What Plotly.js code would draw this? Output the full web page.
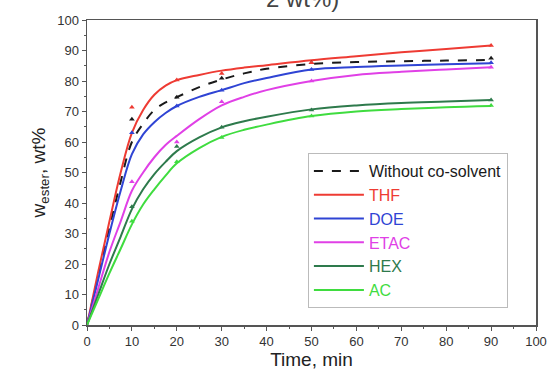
<!DOCTYPE html>
<html><head><meta charset="utf-8">
<script src="https://cdn.plot.ly/plotly-3.0.1.min.js"></script>
<style>html,body{margin:0;padding:0;background:#fff}#c{width:557px;height:380px}</style>
</head><body><div id="c"></div>
<script>
// fitted curves
const tFit = [0, 2.5, 5, 7.5, 10, 12.5, 15, 17.5, 20, 25, 30, 35, 40, 50, 60, 70, 80, 90];
const fitWithout = [0, 16, 32, 47, 60, 66, 70.5, 73, 74.7, 78, 80.5, 82.5, 84, 85.6, 86.2, 86.5, 86.7, 86.9];
const fitTHF     = [0, 17.5, 34, 50, 63, 70.5, 75.5, 78.5, 80.3, 82, 83.4, 84.4, 85.2, 86.8, 88.1, 89.4, 90.5, 91.6];
const fitDOE     = [0, 15, 30, 44, 56, 62.5, 66.5, 69.5, 71.8, 74.8, 77, 79.3, 81, 83.8, 84.6, 85.1, 85.5, 85.8];
const fitETAC    = [0, 12, 24, 34, 44, 50, 55, 59, 62, 67.5, 72, 74.8, 77, 80, 82, 83, 83.8, 84.5];
const fitHEX     = [0, 10, 20, 29, 38, 44.5, 49.5, 53.5, 57, 61.5, 64.8, 66.8, 68.3, 70.7, 72, 72.8, 73.3, 73.8];
const fitAC      = [0, 8.5, 17, 25, 33, 39.5, 44.5, 49, 53, 58, 61.7, 64, 65.7, 68.5, 70, 70.8, 71.4, 71.8];
// experimental points
const tExp = [10, 20, 30, 50, 90];
const expWithout = [67.5, 74.7, 80.9, 86, 87.5];
const expTHF     = [71.4, 80.3, 82.5, 86, 91.6];
const expDOE     = [63, 71.8, 77, 83.8, 86];
const expETAC    = [47, 60, 73.2, 80, 84.5];
const expHEX     = [38.8, 58.5, 64.8, 70.5, 73.8];
const expAC      = [34, 53.5, 61.5, 68.5, 72];

const names = ['Without co-solvent','THF','DOE','ETAC','HEX','AC'];
const colors = ['#1a1a1a','#ee3b33','#2f44d4','#e040e6','#2e7a4c','#3fdc3f'];
const fits = [fitWithout, fitTHF, fitDOE, fitETAC, fitHEX, fitAC];
const exps = [expWithout, expTHF, expDOE, expETAC, expHEX, expAC];

const traces = [];
for (let i = 0; i < names.length; i++) {
  traces.push({
    x: tFit, y: fits[i], mode: 'lines', type: 'scatter',
    name: '<span style="color:' + colors[i] + '">' + names[i] + '</span>',
    line: {color: colors[i], width: 2, shape: 'spline', smoothing: 1, dash: i === 0 ? 'dash' : 'solid'},
    hoverinfo: 'skip'
  });
}
for (let i = 0; i < names.length; i++) {
  traces.push({
    x: tExp, y: exps[i], mode: 'markers', type: 'scatter', showlegend: false,
    marker: {color: colors[i], size: 5, symbol: 'triangle-up'}
  });
}

const layout = {
  width: 557, height: 380,
  margin: {l: 87, r: 21, t: 20, b: 55},
  paper_bgcolor: '#fff', plot_bgcolor: '#fff',
  font: {family: 'Liberation Sans, Arial, sans-serif', color: '#222'},
  showlegend: true,
  legend: {x: 0.492, y: 0.564, xanchor: 'left', yanchor: 'top',
    bordercolor: '#bbb', borderwidth: 1, bgcolor: '#fff',
    font: {size: 16, color: '#333'}, tracegroupgap: 0, itemwidth: 50},
  xaxis: {range: [0, 100], dtick: 10, tick0: 0, showgrid: false, zeroline: false,
    showline: true, linecolor: '#555', linewidth: 1.5, mirror: true,
    ticks: 'outside', ticklen: 4, tickcolor: '#555',
    minor: {dtick: 5, ticks: 'outside', ticklen: 2, tickcolor: '#555'},
    tickfont: {size: 13, color: '#333'},
    title: {text: 'Time, min', font: {size: 19, color: '#222'}, standoff: 4}},
  yaxis: {range: [0, 100], dtick: 10, tick0: 0, showgrid: false, zeroline: false,
    showline: true, linecolor: '#555', linewidth: 1.5, mirror: true,
    ticks: 'outside', ticklen: 4, tickcolor: '#555',
    minor: {dtick: 5, ticks: 'outside', ticklen: 2, tickcolor: '#555'},
    tickfont: {size: 13, color: '#333'},
    title: {text: 'w<sub>ester</sub>, wt%', font: {size: 19, color: '#222'}, standoff: 6}},
  annotations: [{text: '2 wt%)', xref: 'paper', yref: 'paper', x: 0.481, y: 1.02,
    xanchor: 'center', yanchor: 'bottom', showarrow: false,
    font: {size: 24, color: '#444'}}]
};
Plotly.newPlot('c', traces, layout, {displayModeBar: false, staticPlot: true});
</script></body></html>
